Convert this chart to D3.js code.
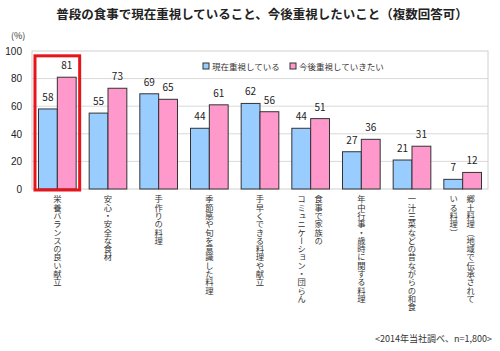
<!DOCTYPE html>
<html>
  <head>
    <meta charset="utf-8">
    <title>普段の食事で現在重視していること</title>
    <script src="https://cdn.jsdelivr.net/npm/d3@7"></script>
    <style>
      body { margin: 0; background: #fff; }
      svg { font-family: "Noto Sans CJK JP", "Noto Sans", sans-serif; }
      .axis text { font-size: 10px; fill: #222; }
      .vlabel { writing-mode: vertical-rl; font-size: 8.3px; fill: #333; }
    </style>
  </head>
  <body>
    <svg id="chart" width="500" height="351"></svg>
    <script>
      // data
      categories = [
        ["栄養バランスの良い献立"],
        ["安心・安全な食材"],
        ["手作りの料理"],
        ["季節感や旬を意識した料理"],
        ["手早くできる料理や献立"],
        ["食事で家族の", "コミュニケーション・団らん"],
        ["年中行事・歳時に関する料理"],
        ["一汁三菜などの昔ながらの和食"],
        ["郷土料理（地域で伝承されて", "いる料理）"]
      ];
      seriesNames = ["現在重視している", "今後重視していきたい"];
      current = [58, 55, 69, 44, 62, 44, 27, 21, 7];
      future = [81, 73, 65, 61, 56, 51, 36, 31, 12];
      yTicks = [0, 20, 40, 60, 80, 100];
      colors = ["#99ccff", "#ff99cc"];

      chart = d3.select("#chart");
      margin = { top: 51, right: 12, bottom: 162, left: 32 };
      width = 500;
      height = 351;

      x = d3.scaleBand()
        .domain(d3.range(categories.length))
        .range([margin.left, width - margin.right]);
      xInner = d3.scaleBand()
        .domain([0, 1])
        .range([6.5, x.bandwidth() - 6.5]);
      y = d3.scaleLinear()
        .domain([0, 100])
        .range([height - margin.bottom, margin.top]);

      // title
      chart.append("text")
        .attr("x", 262)
        .attr("y", 19)
        .attr("text-anchor", "middle")
        .style("font-size", "12.5px")
        .style("font-weight", "bold")
        .style("fill", "#222")
        .text("普段の食事で現在重視していること、今後重視したいこと（複数回答可）");

      chart.append("text")
        .attr("x", 11)
        .attr("y", 39)
        .style("font-size", "9px")
        .style("fill", "#333")
        .text("(%)");

      // grid
      chart.append("g")
        .selectAll("line")
        .data(yTicks.slice(1, -1))
        .enter().append("line")
          .attr("x1", margin.left)
          .attr("x2", width - margin.right)
          .attr("y1", function(d) { return y(d); })
          .attr("y2", function(d) { return y(d); })
          .attr("stroke", "#d9d9d9");

      chart.append("rect")
        .attr("x", margin.left)
        .attr("y", margin.top)
        .attr("width", width - margin.right - margin.left)
        .attr("height", height - margin.bottom - margin.top)
        .attr("fill", "none")
        .attr("stroke", "#d0d0d0");

      yAxis = d3.axisLeft(y).tickValues(yTicks).tickSize(0).tickPadding(10);
      chart.append("g")
        .attr("class", "axis")
        .attr("transform", "translate(" + margin.left + ",0)")
        .call(yAxis)
        .call(function(g) { g.select(".domain").remove(); });

      // bars
      series = [current, future];
      groups = chart.append("g")
        .selectAll("g")
        .data(categories)
        .enter().append("g")
          .attr("transform", function(d, i) { return "translate(" + x(i) + ",0)"; });

      groups.selectAll("rect")
        .data(function(d, i) { return series.map(function(s, k) { return { k: k, v: s[i] }; }); })
        .enter().append("rect")
          .attr("x", function(d) { return xInner(d.k); })
          .attr("y", function(d) { return y(d.v); })
          .attr("width", xInner.bandwidth())
          .attr("height", function(d) { return y(0) - y(d.v); })
          .attr("fill", function(d) { return colors[d.k]; })
          .attr("stroke", "#333")
          .attr("stroke-width", 1);

      groups.selectAll(".val")
        .data(function(d, i) { return series.map(function(s, k) { return { k: k, v: s[i] }; }); })
        .enter().append("text")
          .attr("class", "val")
          .attr("x", function(d) { return xInner(d.k) + xInner.bandwidth() / 2; })
          .attr("y", function(d) { return y(d.v) - 8; })
          .attr("text-anchor", "middle")
          .style("font-size", "10px")
          .style("fill", "#222")
          .text(function(d) { return d.v; });

      // category labels
      groups.each(function(d) {
        g = d3.select(this);
        cx = x.bandwidth() / 2;
        d.forEach(function(line, j) {
          off = d.length === 1 ? 0 : (j === 0 ? 8 : -9);
          g.append("text")
            .attr("class", "vlabel")
            .attr("x", cx + off)
            .attr("y", y(0) + 6)
            .text(line);
        });
      });

      // highlight
      chart.append("rect")
        .attr("x", x(0) + 3)
        .attr("y", y(96.5))
        .attr("width", x.bandwidth() - 6)
        .attr("height", y(0) - y(96.5) + 1)
        .attr("fill", "none")
        .attr("stroke", "#e8141b")
        .attr("stroke-width", 3);

      // legend
      legend = chart.append("g")
        .selectAll("g")
        .data(seriesNames)
        .enter().append("g")
          .attr("transform", function(d, i) { return "translate(" + [203, 290][i] + ",67)"; });
      legend.append("rect")
        .attr("x", 0).attr("y", -4)
        .attr("width", 6).attr("height", 6)
        .attr("fill", function(d, i) { return colors[i]; })
        .attr("stroke", "#333");
      legend.append("text")
        .attr("x", 9)
        .attr("y", 2.5)
        .style("font-size", "8.5px")
        .style("fill", "#333")
        .text(function(d) { return d; });

      // note
      chart.append("text")
        .attr("x", 492)
        .attr("y", 342)
        .attr("text-anchor", "end")
        .style("font-size", "9px")
        .style("fill", "#333")
        .text("<2014年当社調べ、n=1,800>");
    </script>
  </body>
</html>
